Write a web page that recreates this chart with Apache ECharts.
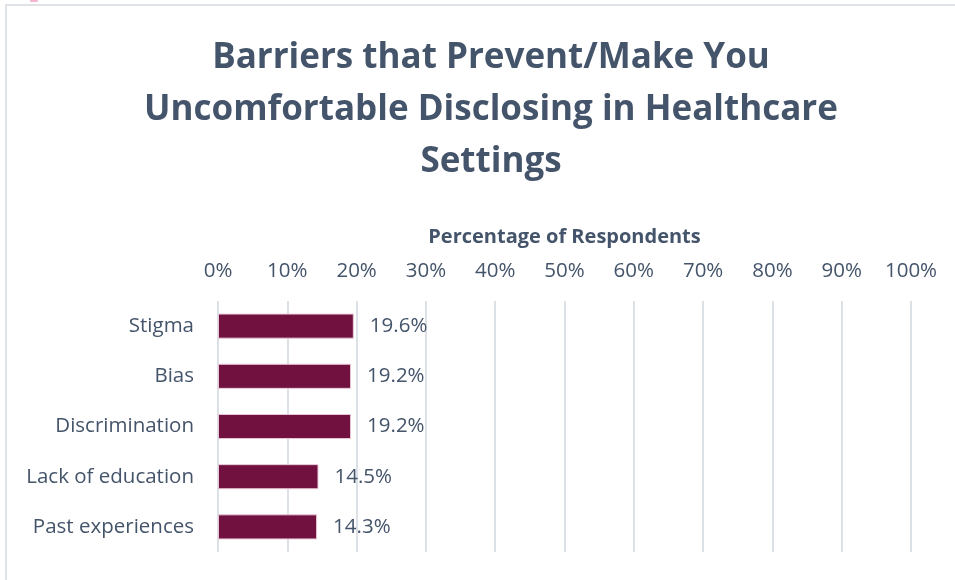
<!DOCTYPE html>
<html>
<head>
<meta charset="utf-8">
<script src="https://cdn.jsdelivr.net/npm/echarts@6/dist/echarts.min.js"></script>
<style>
  html, body { margin: 0; padding: 0; background: #ffffff; }
  #chart { width: 955px; height: 580px; }
</style>
</head>
<body>
<div id="chart"></div>
<script>
// Survey answers: barriers to disclosing in healthcare settings
const categories = ['Stigma', 'Bias', 'Discrimination', 'Lack of education', 'Past experiences'];
const percentages = [19.6, 19.2, 19.2, 14.5, 14.3];
const axisTicks = [0, 10, 20, 30, 40, 50, 60, 70, 80, 90, 100];

const titleText = 'Barriers that Prevent/Make You\nUncomfortable Disclosing in Healthcare\nSettings';
const axisTitle = 'Percentage of Respondents';

const FONT = '"Open Sans", Lato, sans-serif';
const TEXT = '#44546A';

const chart = echarts.init(document.getElementById('chart'), null, { renderer: 'canvas' });

chart.setOption({
  animation: false,
  backgroundColor: '#ffffff',
  textStyle: { fontFamily: FONT },
  graphic: [
    {
      type: 'rect',
      shape: { x: 6, y: 5, width: 1000, height: 700 },
      style: { fill: 'none', stroke: '#DFE2E7', lineWidth: 2 },
      silent: true
    },
    {
      type: 'rect',
      shape: { x: 30, y: 0, width: 8, height: 2, r: 1 },
      style: { fill: '#F3B3D0' },
      silent: true
    }
  ],
  title: {
    text: titleText,
    left: 486,
    top: 27,
    textAlign: 'center',
    textStyle: {
      fontFamily: FONT,
      fontSize: 35,
      fontWeight: 'bold',
      color: TEXT,
      lineHeight: 52
    }
  },
  grid: {
    left: 218,
    right: 44,
    top: 301,
    bottom: 28,
    containLabel: false
  },
  xAxis: {
    type: 'value',
    position: 'top',
    min: axisTicks[0],
    max: axisTicks[axisTicks.length - 1],
    interval: axisTicks[1] - axisTicks[0],
    name: axisTitle,
    nameLocation: 'middle',
    nameGap: 54,
    nameTextStyle: {
      fontFamily: FONT,
      fontSize: 20,
      fontWeight: 'bold',
      color: TEXT
    },
    axisLine: { show: false },
    axisTick: { show: false },
    axisLabel: {
      formatter: '{value}%',
      fontFamily: FONT,
      fontSize: 20.5,
      color: TEXT,
      margin: 19
    },
    splitLine: {
      show: true,
      lineStyle: { color: '#DCE1E8', width: 2 }
    }
  },
  yAxis: {
    type: 'category',
    inverse: true,
    data: categories,
    axisLine: { show: false },
    axisTick: { show: false },
    axisLabel: {
      fontFamily: FONT,
      fontSize: 20.5,
      color: TEXT,
      margin: 24
    }
  },
  series: [
    {
      type: 'bar',
      data: percentages,
      barCategoryGap: '50%',
      itemStyle: {
        color: '#70113F',
        borderColor: '#E9C9D8',
        borderWidth: 1
      },
      label: {
        show: true,
        position: 'right',
        distance: 16,
        formatter: p => p.value.toFixed(1) + '%',
        fontFamily: FONT,
        fontSize: 20.5,
        color: TEXT
      }
    }
  ]
});
</script>
</body>
</html>
